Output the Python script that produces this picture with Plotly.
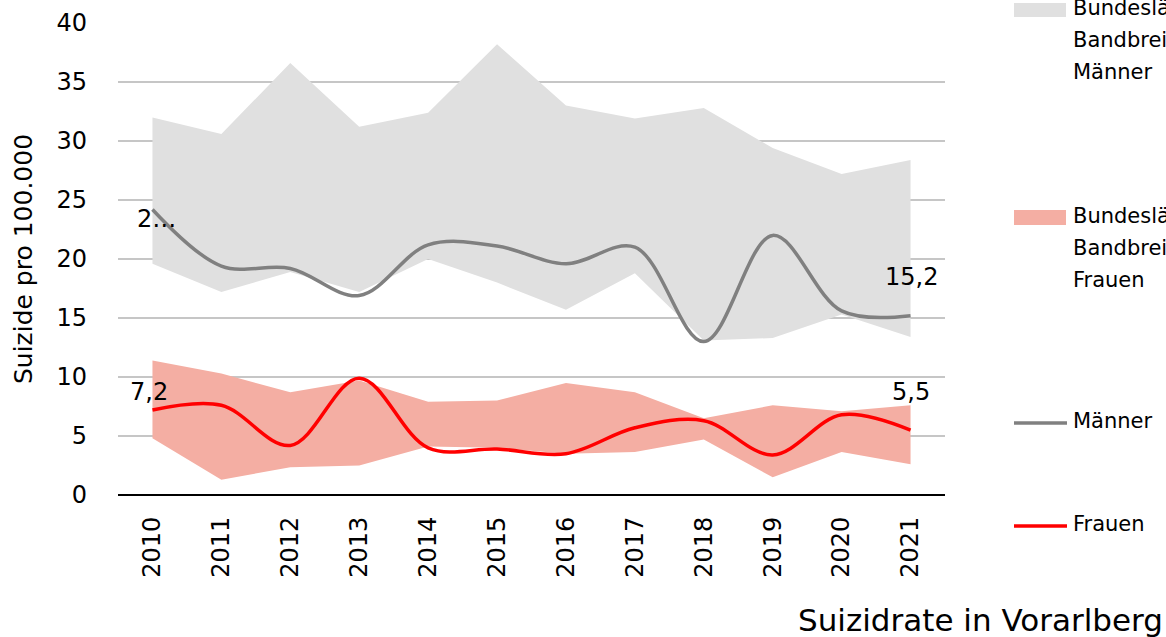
import plotly.graph_objects as go

years = ["2010", "2011", "2012", "2013", "2014", "2015", "2016", "2017", "2018", "2019", "2020", "2021"]

men_band_low = [19.6, 17.2, 18.9, 17.2, 20.0, 18.0, 15.7, 18.8, 13.1, 13.3, 15.3, 13.4]
men_band_high = [32.0, 30.6, 36.6, 31.2, 32.4, 38.2, 33.0, 31.9, 32.8, 29.4, 27.2, 28.4]
women_band_low = [4.8, 1.3, 2.35, 2.5, 4.1, 4.0, 3.5, 3.65, 4.7, 1.5, 3.65, 2.6]
women_band_high = [11.4, 10.3, 8.7, 9.7, 7.9, 8.0, 9.5, 8.7, 6.5, 7.6, 7.1, 7.6]
men = [24.2, 19.4, 19.2, 16.9, 21.2, 21.1, 19.6, 21.0, 13.0, 22.0, 15.6, 15.2]
women = [7.2, 7.6, 4.2, 9.9, 4.0, 3.9, 3.5, 5.7, 6.3, 3.4, 6.8, 5.5]

legend_labels = [
    ["Bundesländer", "Bandbreite", "Männer"],
    ["Bundesländer", "Bandbreite", "Frauen"],
    ["Männer"],
    ["Frauen"],
]
y_ticks = [0, 5, 10, 15, 20, 25, 30, 35, 40]

GRAY_BAND = "#e0e0e0"
RED_BAND = "#f4aea3"
GRAY_LINE = "#808080"
RED_LINE = "#ff0000"
FONT = "DejaVu Sans"

fig = go.Figure()
fig.add_trace(go.Scatter(x=years, y=men_band_low, mode="lines", line=dict(width=0),
                         showlegend=False, hoverinfo="skip"))
fig.add_trace(go.Scatter(x=years, y=men_band_high, mode="lines", line=dict(width=0),
                         fill="tonexty", fillcolor=GRAY_BAND, showlegend=False,
                         name="Bundesländer Bandbreite Männer"))
fig.add_trace(go.Scatter(x=years, y=women_band_low, mode="lines", line=dict(width=0),
                         showlegend=False, hoverinfo="skip"))
fig.add_trace(go.Scatter(x=years, y=women_band_high, mode="lines", line=dict(width=0),
                         fill="tonexty", fillcolor=RED_BAND, showlegend=False,
                         name="Bundesländer Bandbreite Frauen"))
fig.add_trace(go.Scatter(x=years, y=men, mode="lines", name="Männer",
                         line=dict(color=GRAY_LINE, width=3.5, shape="spline", smoothing=1),
                         showlegend=False))
fig.add_trace(go.Scatter(x=years, y=women, mode="lines", name="Frauen",
                         line=dict(color=RED_LINE, width=3.5, shape="spline", smoothing=1),
                         showlegend=False))

def fmt(v):
    return f"{v:.1f}".replace(".", ",")

first, last = 0, len(years) - 1
annotations = [
    dict(x=first, y=men[first], text="2…", xshift=4, yshift=-10),
    dict(x=first, y=women[first], text=fmt(women[first]), xshift=-3, yshift=18),
    dict(x=last, y=men[last], text=fmt(men[last]), xshift=1, yshift=39),
    dict(x=last, y=women[last], text=fmt(women[last]), xshift=0, yshift=38),
]
for a in annotations:
    a.update(xref="x", yref="y", showarrow=False, xanchor="center", yanchor="middle",
             font=dict(family=FONT, size=24, color="#000000"))

W, H = 1166, 637
PL, PR, PT, PB = 118, 945, 23, 495          # plot area in page pixels
L, T, R, B = PL, PT, W - PR, H - PB
pw, ph = W - L - R, H - T - B

def px(xp):
    return (xp - PL) / pw

def py(yp):
    return (PB - yp) / ph

shapes = [
    dict(type="rect", xref="paper", yref="paper", x0=px(1014), x1=px(1066),
         y0=py(17), y1=py(3), fillcolor=GRAY_BAND, line=dict(width=0)),
    dict(type="rect", xref="paper", yref="paper", x0=px(1014), x1=px(1066),
         y0=py(225), y1=py(210), fillcolor=RED_BAND, line=dict(width=0)),
    dict(type="line", xref="paper", yref="paper", x0=px(1014), x1=px(1067),
         y0=py(423), y1=py(423), line=dict(color=GRAY_LINE, width=3.5)),
    dict(type="line", xref="paper", yref="paper", x0=px(1014), x1=px(1067),
         y0=py(526), y1=py(526), line=dict(color=RED_LINE, width=3.5)),
]
legend_rows = [[8, 40, 72], [216, 248, 280], [421], [524]]
for labels, rows in zip(legend_labels, legend_rows):
    for txt, yy in zip(labels, rows):
        annotations.append(dict(xref="paper", yref="paper", x=px(1071), y=py(yy),
                                text=txt, showarrow=False, xanchor="left", yanchor="middle",
                                font=dict(family=FONT, size=21, color="#000000")))

annotations.append(dict(xref="paper", yref="paper", x=px(796), y=py(620),
                        text="Suizidrate in Vorarlberg", showarrow=False,
                        xanchor="left", yanchor="middle",
                        font=dict(family=FONT, size=31, color="#000000")))

fig.update_layout(
    width=W, height=H,
    margin=dict(l=L, r=R, t=T, b=B, autoexpand=False),
    paper_bgcolor="white", plot_bgcolor="white",
    font=dict(family=FONT, size=24, color="#000000"),
    showlegend=False,
    annotations=annotations,
    shapes=shapes,
)
fig.update_xaxes(type="category", range=[-0.5, 11.5], tickangle=-90,
                 tickfont=dict(family=FONT, size=24, color="#000000"),
                 showgrid=False, showline=False, ticks="", ticklabelstandoff=16,
                 automargin=False)
fig.update_yaxes(range=[0, 40], tickvals=y_ticks, ticktext=[str(v) for v in y_ticks],
                 showgrid=True, gridcolor="#c6c6c6", gridwidth=2,
                 zeroline=True, zerolinecolor="#000000", zerolinewidth=2.5,
                 showline=False, ticks="", ticklabelstandoff=30,
                 tickfont=dict(family=FONT, size=24, color="#000000"),
                 title=dict(text="Suizide pro 100.000", standoff=16,
                            font=dict(family=FONT, size=25, color="#000000")),
                 automargin=False)

fig.write_html("out.html",
               config={"displayModeBar": False, "staticPlot": True},
               post_script="document.body.style.margin='0';document.body.style.overflow='hidden';")
